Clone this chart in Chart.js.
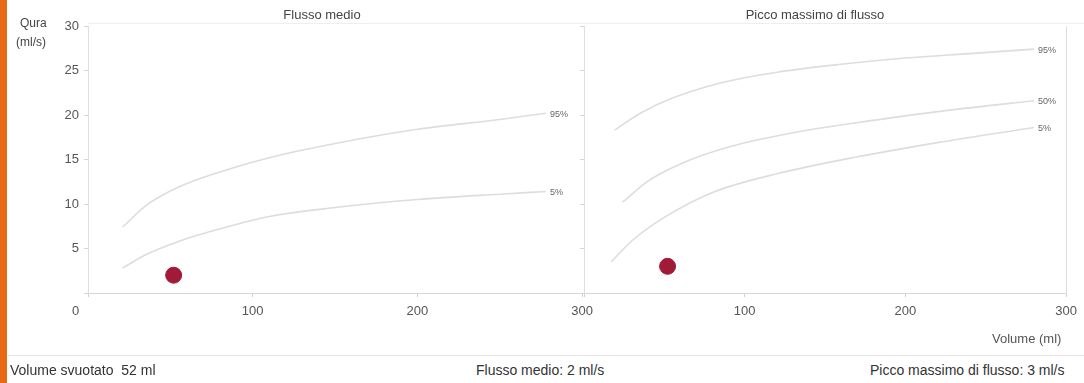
<!DOCTYPE html>
<html>
<head>
<meta charset="utf-8">
<script src="https://cdn.jsdelivr.net/npm/chart.js@4/dist/chart.umd.min.js"></script>
<style>
  html, body { margin: 0; padding: 0; background: #fff; }
  body { width: 1084px; height: 383px; position: relative; overflow: hidden; font-family: "Liberation Sans", Arial, sans-serif; color: #444; }
  .abs { position: absolute; white-space: nowrap; }
  .strip { left: 0; top: 0; width: 7px; height: 383px; background: #e86a12; }
  .box { position: absolute; top: 0; height: 330px; }
  .title { top: 7px; font-size: 13px; color: #444; transform: translateX(-50%); }
  .foot { top: 362px; font-size: 14px; color: #333; }
  .hline { height: 1px; background: #e4e4e4; }
</style>
</head>
<body>
<div class="abs strip"></div>
<div class="abs hline" style="left:88px; top:23px; width:996px; background:#eeeeee"></div>
<div class="abs hline" style="left:8px; top:355px; width:1076px;"></div>

<div class="box" style="left:0; width:600px;"><canvas id="chart-medio"></canvas></div>
<div class="box" style="left:560px; width:524px;"><canvas id="chart-picco"></canvas></div>

<div class="abs title" style="left:322px;">Flusso medio</div>
<div class="abs title" style="left:815px;">Picco massimo di flusso</div>
<div class="abs" style="left:20px; top:16px; font-size:12px; color:#444;">Qura</div>
<div class="abs" style="left:16px; top:35px; font-size:12px; color:#444;">(ml/s)</div>
<div class="abs" style="left:72px; top:303px; font-size:13px; color:#555;">0</div>
<div class="abs" style="left:992px; top:331px; font-size:13px; color:#555;">Volume (ml)</div>
<div class="abs foot" style="left:10px;">Volume svuotato&nbsp; 52 ml</div>
<div class="abs foot" style="left:476px;">Flusso medio: 2 ml/s</div>
<div class="abs foot" style="left:870px;">Picco massimo di flusso: 3 ml/s</div>

<script>
// Flusso medio (left panel) - percentile curves
const volMedio95 = [21, 35, 55, 80, 110, 150, 200, 250, 278];
const flowMedio95 = [7.4, 9.8, 11.9, 13.6, 15.2, 16.8, 18.4, 19.5, 20.2];
const volMedio5 = [21, 35, 55, 80, 110, 150, 200, 250, 278];
const flowMedio5 = [2.8, 4.3, 5.8, 7.2, 8.6, 9.6, 10.5, 11.1, 11.4];

// Picco massimo di flusso (right panel) - percentile curves
const volPicco95 = [19, 35, 55, 85, 120, 160, 200, 240, 280];
const flowPicco95 = [18.3, 20.2, 21.9, 23.6, 24.8, 25.7, 26.4, 26.9, 27.4];
const volPicco50 = [24, 40, 60, 90, 130, 180, 230, 280];
const flowPicco50 = [10.2, 12.6, 14.5, 16.4, 18.0, 19.4, 20.6, 21.6];
const volPicco5 = [17, 30, 50, 80, 120, 170, 220, 280];
const flowPicco5 = [3.5, 5.9, 8.5, 11.3, 13.4, 15.3, 16.9, 18.6];

// patient measurement
const volumeSvuotato = [52];
const flussoMedio = [2];
const piccoMassimo = [3];

const xTicks = [0, 100, 200, 300];
const yTicks = [0, 5, 10, 15, 20, 25, 30];

const pts = (xs, ys) => xs.map((x, i) => ({ x, y: ys[i] }));

const curve = (xs, ys, tag) => ({
  type: 'line',
  data: pts(xs, ys),
  tag,
  borderColor: '#dddddd',
  borderWidth: 1.6,
  pointRadius: 0,
  cubicInterpolationMode: 'monotone',
  fill: false,
});

const dot = (xs, ys) => ({
  type: 'scatter',
  data: pts(xs, ys),
  backgroundColor: '#a11a37',
  borderColor: '#a11a37',
  pointRadius: 8,
});

// small "95%" / "5%" tags at the end of each curve
const tagPlugin = {
  id: 'tags',
  afterDatasetsDraw(chart) {
    const ctx = chart.ctx;
    ctx.save();
    ctx.font = '9px "Liberation Sans", Arial, sans-serif';
    ctx.fillStyle = '#666';
    ctx.textBaseline = 'middle';
    chart.data.datasets.forEach((ds) => {
      if (!ds.tag) return;
      const last = ds.data[ds.data.length - 1];
      const x = chart.scales.x.getPixelForValue(last.x);
      const y = chart.scales.y.getPixelForValue(last.y);
      ctx.fillText(ds.tag, x + 4, y + 1);
    });
    ctx.restore();
  },
};

const tickFont = { family: '"Liberation Sans", Arial, sans-serif', size: 13 };

function xScale() {
  return {
    type: 'linear',
    min: 0,
    max: 300,
    afterBuildTicks: (s) => { s.ticks = xTicks.map((v) => ({ value: v })); },
    ticks: {
      color: '#555',
      font: tickFont,
      padding: 7,
      maxRotation: 0,
      callback: (v) => (v === 0 ? '' : v),
    },
    grid: { drawOnChartArea: false, tickLength: 4, color: '#d0d0d0' },
    border: { color: '#d6d6d6' },
    afterFit: (s) => { s.height = 37; },
  };
}

function yScale(showLabels, width) {
  return {
    type: 'linear',
    min: 0,
    max: 30,
    afterBuildTicks: (s) => { s.ticks = yTicks.map((v) => ({ value: v })); },
    ticks: {
      display: showLabels,
      color: '#555',
      font: tickFont,
      padding: 5,
      callback: (v) => (v === 0 ? '' : v),
    },
    grid: { drawOnChartArea: false, tickLength: 4, color: '#d6d6d6' },
    border: { color: '#dedede' },
    afterFit: (s) => { s.width = width; },
  };
}

const baseOptions = {
  responsive: true,
  maintainAspectRatio: false,
  animation: false,
  events: [],
  plugins: { legend: { display: false }, tooltip: { enabled: false } },
};

new Chart(document.getElementById('chart-medio'), {
  data: {
    datasets: [
      curve(volMedio95, flowMedio95, '95%'),
      curve(volMedio5, flowMedio5, '5%'),
      dot(volumeSvuotato, flussoMedio),
    ],
  },
  options: {
    ...baseOptions,
    layout: { padding: { top: 26, right: 16, left: 0, bottom: 0 } },
    scales: { x: xScale(), y: yScale(true, 88) },
  },
  plugins: [tagPlugin],
});

new Chart(document.getElementById('chart-picco'), {
  data: {
    datasets: [
      curve(volPicco95, flowPicco95, '95%'),
      curve(volPicco50, flowPicco50, '50%'),
      curve(volPicco5, flowPicco5, '5%'),
      dot(volumeSvuotato, piccoMassimo),
    ],
  },
  options: {
    ...baseOptions,
    layout: { padding: { top: 26, right: 16, left: 0, bottom: 0 } },
    scales: {
      x: xScale(),
      y: yScale(false, 24),
      yRight: {
        position: 'right',
        min: 0,
        max: 30,
        ticks: { display: false },
        grid: { display: false },
        border: { color: '#dedede' },
        afterFit: (s) => { s.width = 0; },
      },
    },
  },
  plugins: [tagPlugin],
});
</script>
</body>
</html>
